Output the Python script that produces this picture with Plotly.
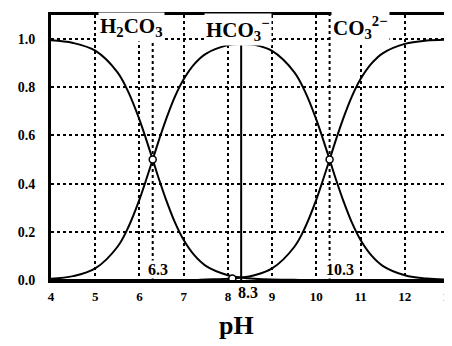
import plotly.graph_objects as go

ph = [4, 4.5, 5, 5.5, 5.75, 6, 6.15, 6.3, 6.45, 6.6, 6.8, 7, 7.25, 7.5, 8, 8.3, 8.6,
      9, 9.5, 9.75, 10, 10.15, 10.3, 10.45, 10.6, 10.8, 11, 11.25, 11.5, 12, 12.5, 13]
h2co3 = [0.995, 0.984, 0.952, 0.863, 0.780, 0.666, 0.585, 0.500, 0.414, 0.334, 0.240, 0.166,
         0.101, 0.059, 0.020, 0.010, 0.005, 0.002, 0.001, 0.0, 0.0, 0.0, 0.0, 0.0, 0.0, 0.0,
         0.0, 0.0, 0.0, 0.0, 0.0, 0.0]
hco3 = [0.005, 0.016, 0.048, 0.137, 0.220, 0.334, 0.415, 0.500, 0.586, 0.666, 0.760, 0.833,
        0.898, 0.939, 0.975, 0.980, 0.976, 0.951, 0.863, 0.780, 0.666, 0.585, 0.500, 0.414,
        0.334, 0.240, 0.166, 0.101, 0.059, 0.020, 0.006, 0.002]
co3 = [0.0, 0.0, 0.0, 0.0, 0.0, 0.0, 0.0, 0.0, 0.0, 0.0, 0.0, 0.0, 0.0, 0.002, 0.005, 0.010,
       0.020, 0.048, 0.137, 0.220, 0.334, 0.415, 0.500, 0.586, 0.666, 0.760, 0.834, 0.899,
       0.941, 0.980, 0.994, 0.998]

marker_x = [6.3, 8.1, 10.3]
marker_y = [0.5, 0.006, 0.5]

x_ticks = [4, 5, 6, 7, 8, 9, 10, 11, 12, 13]
y_ticks = [0.0, 0.2, 0.4, 0.6, 0.8, 1.0]
y_tick_text = ["0.0", "0.2", "0.4", "0.6", "0.8", "1.0"]

dotted_x = [6.3, 10.3]
solid_x = [8.3]

species = ["H<sub>2</sub>CO<sub>3</sub>", "HCO<sub>3</sub><sup>−</sup>", "CO<sub>3</sub><sup>2−</sup>"]
species_x = [5.82, 8.22, 11.0]
species_y = [1.05, 1.04, 1.05]

pk_labels = ["6.3", "8.3", "10.3"]
pk_x = [6.42, 8.45, 10.54]
pk_yp = [0.005, -0.012, 0.005]
pk_anchor = ["bottom", "top", "bottom"]
pk_bg = ["white", "rgba(0,0,0,0)", "white"]

SERIF = "Liberation Serif, Times New Roman, serif"

fig = go.Figure()
for ys in (h2co3, hco3, co3):
    fig.add_trace(go.Scatter(x=ph, y=ys, mode="lines", line=dict(color="black", width=2, shape="spline"),
                             showlegend=False, hoverinfo="skip"))
fig.add_trace(go.Scatter(x=marker_x, y=marker_y, mode="markers",
                         marker=dict(symbol="circle", size=7, color="white", line=dict(color="black", width=1.5)),
                         showlegend=False, hoverinfo="skip"))

for xv in dotted_x:
    fig.add_shape(type="line", x0=xv, x1=xv, y0=0, y1=1.1, xref="x", yref="y",
                  line=dict(color="black", width=2, dash="dot"), layer="below")
for xv in solid_x:
    fig.add_shape(type="line", x0=xv, x1=xv, y0=0, y1=0.98, xref="x", yref="y",
                  line=dict(color="black", width=2), layer="below")

for t, xv, yv in zip(species, species_x, species_y):
    fig.add_annotation(x=xv, y=yv, text="<b>" + t + "</b>", showarrow=False,
                       font=dict(family=SERIF, size=21, color="black"), bgcolor="white")
for t, xv, yv, anc, bg in zip(pk_labels, pk_x, pk_yp, pk_anchor, pk_bg):
    fig.add_annotation(x=xv, y=yv, xref="x", yref="paper", yanchor=anc, text="<b>" + t + "</b>",
                       showarrow=False, font=dict(family=SERIF, size=16, color="black"), bgcolor=bg,
                       borderpad=0)

fig.add_annotation(x=8.2, y=-0.235, text="<b>pH</b>", showarrow=False, xref="x", yref="paper",
                   font=dict(family=SERIF, size=26, color="black"))

fig.update_xaxes(range=[4, 13], tickvals=x_ticks, ticktext=["<b>%d</b>" % v for v in x_ticks],
                 showgrid=True, gridcolor="black", gridwidth=2, griddash="dot",
                 showline=True, linecolor="black", linewidth=3, mirror=True,
                 ticks="", tickfont=dict(family=SERIF, size=13, color="black"),
                 zeroline=False, ticklabelstandoff=2)
fig.update_yaxes(range=[0, 1.1], tickvals=y_ticks, ticktext=["<b>%s</b>" % s for s in y_tick_text],
                 showgrid=True, gridcolor="black", gridwidth=2, griddash="dot",
                 showline=True, linecolor="black", linewidth=3, mirror=True,
                 ticks="", tickfont=dict(family=SERIF, size=14, color="black"),
                 zeroline=False, ticklabelstandoff=10)

fig.update_layout(width=452, height=346, margin=dict(l=43, r=4, t=5, b=74),
                  paper_bgcolor="white", plot_bgcolor="white",
                  font=dict(family=SERIF, color="black"))

fig.write_html("out.html")
